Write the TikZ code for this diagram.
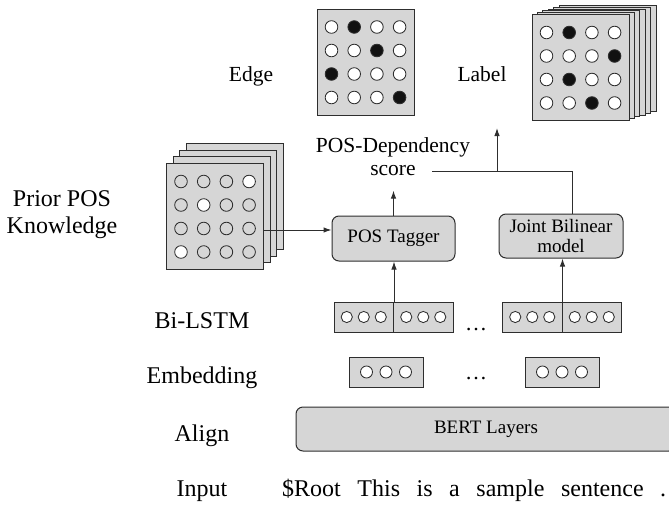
\documentclass[tikz,border=0pt]{standalone}
\usepackage{fontspec}
\setmainfont{Liberation Serif}
\usetikzlibrary{arrows.meta,calc}
\definecolor{panelgray}{HTML}{D6D6D6}
\definecolor{inkgray}{HTML}{2E2E2E}
\definecolor{dotblack}{HTML}{111111}

% 4x4 grid of circles inside a panel node; #2 lists the 16 fills row by row
\newcommand{\dotgrid}[2]{%
  \foreach \gfill [count=\gi from 0] in {#2} {
    \pgfmathtruncatemacro{\grow}{floor(\gi/4)}
    \pgfmathtruncatemacro{\gcol}{mod(\gi,4)}
    \draw[unit,fill=\gfill] ($(#1.north west)+(15+\gcol*22.7,18.5+\grow*23.5)$) circle[radius=6.3pt];
  }}
% three small circles centred in a vector node
\newcommand{\triplet}[3]{%
  \foreach \tk in {-1,0,1}
    \draw[unit,fill=white] ($(#1.center)+(\tk*#2,0)$) circle[radius=#3];}

\begin{document}
\begin{tikzpicture}[x=1pt,y=-1pt,
  ink/.style={draw=inkgray,line width=1pt},
  unit/.style={draw=inkgray,line width=0.85pt},
  panel/.style={ink,fill=panelgray,minimum width=97pt,minimum height=106pt,inner sep=0pt},
  module/.style={ink,fill=panelgray,rounded corners=7pt,inner sep=0pt,
    font=\fontsize{19}{20.5}\selectfont,align=center},
  vecbox/.style={ink,fill=panelgray,minimum height=30pt,inner sep=0pt},
  side/.style={font=\fontsize{24}{27}\selectfont,align=center},
  heading/.style={font=\fontsize{21.5}{23}\selectfont,align=center},
  arr/.style={ink,-{Latex[length=8pt,width=5.5pt]}},
  wire/.style={ink}
]
\clip (0,0) rectangle (669,506);

% ---------- left-hand row labels ----------
\node[side] (priorlbl) at (62,215) {Prior POS\\Knowledge};
\node[side,anchor=base] (lstmlbl) at (202,328) {Bi-LSTM};
\node[side,anchor=base] (emblbl) at (202,383) {Embedding};
\node[side,anchor=base] (alignlbl) at (202,441) {Align};
\node[side,anchor=base] (inputlbl) at (202,496) {Input};

% ---------- output panels ----------
\node[heading,anchor=base] (edgelbl) at (251,81) {Edge};
\node[panel] (edge) at (365.5,62) {};
\dotgrid{edge}{white,dotblack,white,white, white,white,dotblack,white,
               dotblack,white,white,white, white,white,white,dotblack}

\node[heading,anchor=base] (labellbl) at (482,81) {Label};
\coordinate (labelc) at (580.5,67.5);
\foreach \k in {5,4,3,2,1}
  \node[panel] at ($(labelc)+(\k*5.4,-\k*1.8)$) {};
\node[panel] (label) at (labelc) {};
\dotgrid{label}{white,dotblack,white,white, white,white,white,dotblack,
                white,dotblack,white,white, white,white,dotblack,white}

% ---------- prior POS knowledge stack ----------
\coordinate (priorc) at (215,216.5);
\foreach \k in {3,2,1}
  \node[panel] at ($(priorc)+(\k*6.7,-\k*6.7)$) {};
\node[panel] (prior) at (priorc) {};
\dotgrid{prior}{panelgray,panelgray,panelgray,white, panelgray,white,panelgray,panelgray,
                panelgray,panelgray,panelgray,panelgray, white,panelgray,panelgray,panelgray}

% ---------- scoring modules ----------
\node[heading] (score) at (393,157) {POS-Dependency\\score};
\node[module,minimum width=123pt,minimum height=45pt] (tagger) at (393.5,238.5) {POS Tagger};
\node[module,minimum width=124pt,minimum height=44pt] (joint) at (561,236) {Joint Bilinear\\model};

% ---------- Bi-LSTM states ----------
\node[vecbox,minimum width=59.5pt] (fwdA) at (363.75,317) {};
\node[vecbox,minimum width=59.5pt] (bwdA) at (423.25,317) {};
\node[vecbox,minimum width=59.5pt] (fwdB) at (532.25,317) {};
\node[vecbox,minimum width=59.5pt] (bwdB) at (591.75,317) {};
\triplet{fwdA}{17pt}{5.6pt}
\triplet{bwdA}{17pt}{5.6pt}
\triplet{fwdB}{17pt}{5.6pt}
\triplet{bwdB}{17pt}{5.6pt}
\node[font=\fontsize{22}{24}\selectfont,anchor=base] (lstmdots) at (476,330) {\ldots};

% ---------- embeddings ----------
\node[vecbox,minimum width=74pt] (embA) at (386,372) {};
\node[vecbox,minimum width=74pt] (embB) at (562,372) {};
\triplet{embA}{19.5pt}{6pt}
\triplet{embB}{19.5pt}{6pt}
\node[font=\fontsize{22}{24}\selectfont,anchor=base] (embdots) at (476,379) {\ldots};

% ---------- encoder and input ----------
\node[module,minimum width=380pt,minimum height=44pt] (bert) at (486,429) {BERT Layers};
\node[side,anchor=base west,inner sep=0pt] (sentence) at (282,496)
  {\makebox[384pt][s]{\$Root This is a sample sentence .}};

% ---------- connectors ----------
\draw[arr] (prior.east |- 0,230) -- (tagger.west |- 0,230);
\draw[arr] (fwdA.north east) -- (fwdA.north east |- tagger.south);
\draw[arr] (fwdB.north east) -- (fwdB.north east |- joint.south);
\draw[arr,shorten >=11pt] (tagger.north) -- (tagger.north |- score.south);
\coordinate (scoreend) at (432,171);
\coordinate (merge) at (497,171);
\coordinate (outtip) at (497,128);
\draw[wire] ([xshift=11pt]joint.north) |- (scoreend);
\draw[arr] (merge) -- (outtip);
\end{tikzpicture}
\end{document}
